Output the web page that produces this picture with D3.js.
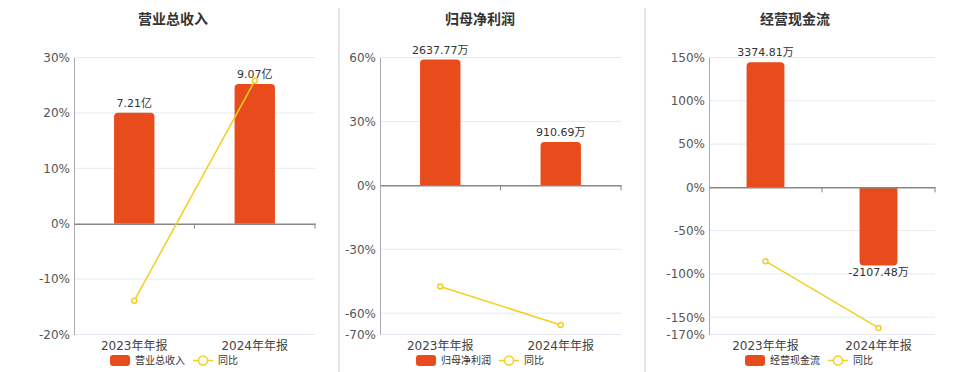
<!DOCTYPE html>
<html>
<head>
<meta charset="utf-8">
<script src="https://cdn.jsdelivr.net/npm/d3@7"></script>
<style>
  body { margin: 0; background: #fff; }
  svg { display: block; font-family: "DejaVu Sans", "Noto Sans CJK SC", sans-serif; }
</style>
</head>
<body>
<div id="chart"></div>
<script>
// ---- data ----
const categories = ["2023年年报", "2024年年报"];
const titles = ["营业总收入", "归母净利润", "经营现金流"];

const revenue = [7.21, 9.07];
const revenueYoY = [-13.9, 25.8];
const netProfit = [2637.77, 910.69];
const netProfitYoY = [-47.5, -65.5];
const cashFlow = [3374.81, -2107.48];
const cashFlowYoY = [-85.3, -162.4];

const units = ["亿", "万", "万"];
const ticks1 = [30, 20, 10, 0, -10, -20];
const ticks2 = [60, 30, 0, -30, -60, -70];
const ticks3 = [150, 100, 50, 0, -50, -100, -150, -170];
// hidden bar axis: value that sits at the top of each plot
const barTop = [10.8, 2680, 3500];

const barColor = "#e84b1c";
const lineColor = "#f3cf22";

const width = 960, height = 372;
const svg = d3.select("#chart").append("svg")
    .attr("width", width)
    .attr("height", height);

// panel dividers
[339, 645].forEach(x => {
    svg.append("line")
        .attr("x1", x).attr("x2", x)
        .attr("y1", 8).attr("y2", height)
        .attr("stroke", "#dcdcdc")
        .attr("stroke-width", 1.5);
});

const panels = [
    {title: titles[0], bars: revenue, yoy: revenueYoY, ticks: ticks1, unit: units[0], barTop: barTop[0], left: 74, right: 315, cx: 173},
    {title: titles[1], bars: netProfit, yoy: netProfitYoY, ticks: ticks2, unit: units[1], barTop: barTop[1], left: 380, right: 621, cx: 480},
    {title: titles[2], bars: cashFlow, yoy: cashFlowYoY, ticks: ticks3, unit: units[2], barTop: barTop[2], left: 709, right: 935, cx: 795}
];

const plotTop = 57.5, plotBottom = 334.5;

panels.forEach(p => drawPanel(p));

function drawPanel(p) {
    let g = svg.append("g");

    // title
    g.append("text")
        .attr("x", p.cx).attr("y", 24)
        .attr("text-anchor", "middle")
        .attr("font-size", 14)
        .attr("font-weight", "bold")
        .attr("fill", "#333")
        .text(p.title);

    let y = d3.scaleLinear()
        .domain([d3.min(p.ticks), d3.max(p.ticks)])
        .range([plotBottom, plotTop]);

    let x = d3.scaleBand()
        .domain(categories)
        .range([p.left, p.right]);

    let zeroY = y(0);
    // bar scale shares the zero line with the percent axis
    let yb = d3.scaleLinear()
        .domain([0, p.barTop])
        .range([zeroY, plotTop]);

    // gridlines
    g.selectAll(".grid")
        .data(p.ticks.filter(t => t !== 0))
        .join("line")
        .attr("x1", p.left).attr("x2", p.right)
        .attr("y1", d => y(d)).attr("y2", d => y(d))
        .attr("stroke", "#e6e9f4")
        .attr("stroke-width", 1);

    // y axis
    let yAxis = d3.axisLeft(y)
        .tickValues(p.ticks)
        .tickSize(0)
        .tickPadding(4)
        .tickFormat(d => d + "%");
    let ya = g.append("g")
        .attr("transform", `translate(${p.left},0)`)
        .call(yAxis);
    ya.select(".domain").attr("stroke", "#aaa");
    ya.selectAll("text")
        .attr("font-size", 12)
        .attr("fill", "#555")
        .attr("font-family", "DejaVu Sans, sans-serif");

    // bars
    let bw = x.bandwidth() * 0.335;
    let r = 4;
    g.selectAll(".bar")
        .data(p.bars)
        .join("path")
        .attr("fill", barColor)
        .attr("d", (d, i) => {
            let cx = x(categories[i]) + x.bandwidth() / 2;
            let x0 = cx - bw / 2, x1 = cx + bw / 2;
            let yv = yb(d);
            let s = d >= 0 ? 1 : -1;
            let path = d3.path();
            path.moveTo(x0, zeroY);
            path.lineTo(x0, yv + s * r);
            path.quadraticCurveTo(x0, yv, x0 + r, yv);
            path.lineTo(x1 - r, yv);
            path.quadraticCurveTo(x1, yv, x1, yv + s * r);
            path.lineTo(x1, zeroY);
            path.closePath();
            return path.toString();
        });

    // bar labels
    g.selectAll(".blabel")
        .data(p.bars)
        .join("text")
        .attr("x", (d, i) => x(categories[i]) + x.bandwidth() / 2)
        .attr("y", d => d >= 0 ? yb(d) - 6 : yb(d) + 10)
        .attr("text-anchor", "middle")
        .attr("font-size", 11)
        .attr("fill", "#333")
        .text(d => d.toFixed(2) + p.unit);

    // x axis on zero
    let xAxis = d3.axisBottom(x).tickSize(0).tickFormat("");
    let xa = g.append("g")
        .attr("transform", `translate(0,${zeroY})`)
        .call(xAxis);
    xa.select(".domain").attr("stroke", "#888").attr("stroke-width", 1.5);
    // band boundary ticks
    xa.selectAll(".btick")
        .data([p.left + x.bandwidth(), p.right])
        .join("line")
        .attr("x1", d => d).attr("x2", d => d)
        .attr("y1", 0).attr("y2", 5)
        .attr("stroke", "#888");

    // category labels at bottom
    g.selectAll(".xlabel")
        .data(categories)
        .join("text")
        .attr("x", d => x(d) + x.bandwidth() / 2)
        .attr("y", plotBottom + 12)
        .attr("dominant-baseline", "middle")
        .attr("text-anchor", "middle")
        .attr("font-size", 12)
        .attr("fill", "#444")
        .text(d => d);

    // yoy line
    let line = d3.line()
        .x((d, i) => x(categories[i]) + x.bandwidth() / 2)
        .y(d => y(d));
    g.append("path")
        .datum(p.yoy)
        .attr("d", line)
        .attr("fill", "none")
        .attr("stroke", lineColor)
        .attr("stroke-width", 1.5);
    g.selectAll(".pt")
        .data(p.yoy)
        .join("circle")
        .attr("cx", (d, i) => x(categories[i]) + x.bandwidth() / 2)
        .attr("cy", d => y(d))
        .attr("r", 2.5)
        .attr("fill", "#fff")
        .attr("stroke", lineColor)
        .attr("stroke-width", 1.5);

    // legend
    let lx = p.left + 36;
    let ly = 360.5;
    let leg = g.append("g");
    leg.append("rect")
        .attr("x", lx).attr("y", ly - 5.5)
        .attr("width", 20).attr("height", 11)
        .attr("rx", 3)
        .attr("fill", barColor);
    leg.append("text")
        .attr("x", lx + 25).attr("y", ly)
        .attr("dominant-baseline", "middle")
        .attr("font-size", 10)
        .attr("fill", "#333")
        .text(p.title);
    let lx2 = lx + 83;
    leg.append("line")
        .attr("x1", lx2).attr("x2", lx2 + 20)
        .attr("y1", ly).attr("y2", ly)
        .attr("stroke", lineColor)
        .attr("stroke-width", 1.5);
    leg.append("circle")
        .attr("cx", lx2 + 10).attr("cy", ly)
        .attr("r", 4.5)
        .attr("fill", "#fff")
        .attr("stroke", lineColor)
        .attr("stroke-width", 1.5);
    leg.append("text")
        .attr("x", lx2 + 25).attr("y", ly)
        .attr("dominant-baseline", "middle")
        .attr("font-size", 10)
        .attr("fill", "#333")
        .text("同比");
}
</script>
</body>
</html>
